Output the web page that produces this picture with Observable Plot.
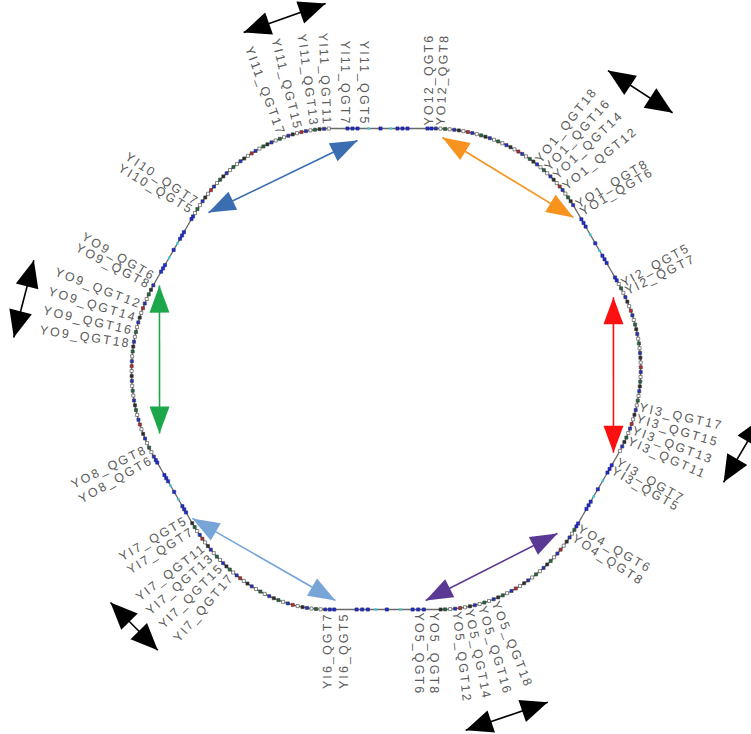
<!DOCTYPE html>
<html>
<head>
<meta charset="utf-8">
<script src="https://cdn.jsdelivr.net/npm/d3@7"></script>
<script src="https://cdn.jsdelivr.net/npm/@observablehq/plot@0.6"></script>
<style>
  body { margin: 0; background: #fff; }
  #chart svg { display: block; }
</style>
</head>
<body>
<div id="chart"></div>
<script>
// ---- Ring layout: six straight sections (clockwise from 12 o'clock) joined by arcs ----
const straightAzimuth = [90, 30, -30, -90, -150, 150];     // deg, normal direction
const straightApothem = [240, 246, 246, 241, 243, 241];    // distance from ring centre
const straightHalfLength = [50, 42, 42, 56, 36, 38];

// Quadrupole magnets on the straights (fraction of half-length along the section)
const straightQuadOffsets = [-0.72, -0.62, -0.52, -0.06, 0.28, 0.38, 0.48, 0.88, 0.96];
const straightCorrectorOffsets = [0.14, -0.3];

// ---- Magnet labels: name and azimuth (deg, counter-clockwise from 3 o'clock) ----
const labelNames = [
  "YO12_QGT6", "YO12_QGT8",
  "YO1_QGT18", "YO1_QGT16", "YO1_QGT14", "YO1_QGT12", "YO1_QGT8", "YO1_QGT6",
  "YI2_QGT5", "YI2_QGT7",
  "YI3_QGT17", "YI3_QGT15", "YI3_QGT13", "YI3_QGT11", "YI3_QGT7", "YI3_QGT5",
  "YO4_QGT6", "YO4_QGT8",
  "YO5_QGT18", "YO5_QGT16", "YO5_QGT14", "YO5_QGT12", "YO5_QGT8", "YO5_QGT6",
  "YI6_QGT5", "YI6_QGT7",
  "YI7_QGT17", "YI7_QGT15", "YI7_QGT13", "YI7_QGT11", "YI7_QGT7", "YI7_QGT5",
  "YO8_QGT6", "YO8_QGT8",
  "YO9_QGT18", "YO9_QGT16", "YO9_QGT14", "YO9_QGT12", "YO9_QGT8", "YO9_QGT6",
  "YI10_QGT5", "YI10_QGT7",
  "YI11_QGT17", "YI11_QGT15", "YI11_QGT13", "YI11_QGT11", "YI11_QGT7", "YI11_QGT5"
];
const labelAzimuths = [
  79.5, 76.6,
  53.3, 50.8, 48.3, 45.2, 40.4, 38.4,
  19.5, 17.5,
  -8.6, -11.1, -13.8, -16.3, -21.5, -23.7,
  -39.4, -41.7,
  -64.3, -67.4, -70.4, -73.1, -78.3, -81.7,
  260.6, 257.1,
  233.7, 230.7, 227.7, 224.9, 220.4, 217.5,
  201.3, 198.7,
  174.4, 171.5, 168.5, 165.3, 160.6, 158.5,
  140.3, 138.2,
  113.7, 109.8, 106.1, 103.2, 98.9, 94.7
];

// ---- Coloured double arrows inside the ring (polar: azimuth deg, radius) ----
const arrowColors = ["#3b6db1", "#f7931e", "#ff1010", "#5a3994", "#77a5d8", "#1ca84a"];
const arrowFromAz = [96.5, 75.7, 17.2, -43.5, 218.1, 159.7];
const arrowFromR  = [229.5, 238.4, 240.7, 239.8, 242.9, 238.9];
const arrowToAz   = [138.3, 38.5, -20.1, -79.7, 258.3, 196.2];
const arrowToR    = [234.4, 242.7, 244.9, 235.8, 236.9, 233.2];

// ---- Black double arrows outside the ring ----
const blackFromAz = [112.6, 53, -7.5, -63.8, 220.6, 162.8];
const blackFromR  = [364, 373, 381, 372, 359.6, 366];
const blackToAz   = [99, 41.5, -18.5, -77.2, 231.3, 175.2];
const blackToR    = [369.6, 386, 358.6, 371, 361, 371];

// ---- Geometry helpers ----
const rad = Math.PI / 180;
const polar = (az, r) => [r * Math.cos(az * rad), r * Math.sin(az * rad)];

function buildRing() {
  const n = straightAzimuth.length;
  const secs = straightAzimuth.map((az, k) => {
    const p = az * rad, a = straightApothem[k], h = straightHalfLength[k];
    const cx = a * Math.cos(p), cy = a * Math.sin(p);
    const tx = Math.sin(p), ty = -Math.cos(p); // clockwise direction
    return {cx, cy, h, tx, ty, sx: cx - h * tx, sy: cy - h * ty, ex: cx + h * tx, ey: cy + h * ty};
  });
  const pts = [];
  secs.forEach((s, k) => {
    const nx = secs[(k + 1) % n];
    const SN = 60;
    for (let i = 0; i < SN; i++) {
      const u = i / SN;
      pts.push({x: s.sx + u * (s.ex - s.sx), y: s.sy + u * (s.ey - s.sy), arc: false});
    }
    // arc: cubic Bezier tangent to both neighbouring straights
    const m = 0.357 * Math.hypot(nx.sx - s.ex, nx.sy - s.ey);
    const p0 = [s.ex, s.ey], p1 = [s.ex + m * s.tx, s.ey + m * s.ty];
    const p2 = [nx.sx - m * nx.tx, nx.sy - m * nx.ty], p3 = [nx.sx, nx.sy];
    const AN = 300;
    for (let i = 0; i < AN; i++) {
      const u = i / AN, v = 1 - u;
      const b0 = v * v * v, b1 = 3 * v * v * u, b2 = 3 * v * u * u, b3 = u * u * u;
      pts.push({
        x: b0 * p0[0] + b1 * p1[0] + b2 * p2[0] + b3 * p3[0],
        y: b0 * p0[1] + b1 * p1[1] + b2 * p2[1] + b3 * p3[1],
        arc: i > 0
      });
    }
  });
  pts.push({...pts[0], arc: false});
  return {pts, secs};
}

const {pts: ring, secs} = buildRing();
const N = ring.length - 1;

function ringIndexAt(az) {
  let best = 0, bd = Infinity;
  for (let i = 0; i < N; i++) {
    const a = Math.atan2(ring[i].y, ring[i].x) / rad;
    const d = Math.abs((((a - az) % 360) + 540) % 360 - 180);
    if (d < bd) { bd = d; best = i; }
  }
  return best;
}

// Magnets along the arcs
const magnetColors = ["#1f2fd6", "#ffffff", "#1b6b3a", "#ffffff", "#1f2fd6", "#2a2a2a",
                      "#ffffff", "#c8242b", "#1f2fd6", "#ffffff", "#1b6b3a", "#2a2a2a"];
const magnetSpacing = 4.5;
const arcMagnets = [];
{
  let acc = 0, ci = 0;
  for (let i = 1; i < ring.length; i++) {
    const a = ring[i - 1], b = ring[i];
    if (!b.arc) { acc = magnetSpacing / 2; continue; }
    acc += Math.hypot(b.x - a.x, b.y - a.y);
    if (acc >= magnetSpacing) {
      acc = 0;
      arcMagnets.push({x: b.x, y: b.y, fill: magnetColors[ci++ % magnetColors.length]});
    }
  }
}
const straightQuads = secs.flatMap(s => straightQuadOffsets.map(o => ({x: s.cx + o * s.h * s.tx, y: s.cy + o * s.h * s.ty})));
const straightCorrectors = secs.flatMap(s => straightCorrectorOffsets.map(o => ({x: s.cx + o * s.h * s.tx, y: s.cy + o * s.h * s.ty})));

// Label placement: perpendicular to the ring, reading outward on the right half
const labelGap = 3;
const labels = labelNames.map((name, i) => {
  const az = labelAzimuths[i];
  const j = ringIndexAt(az);
  const p = ring[j], a = ring[(j - 1 + N) % N], b = ring[(j + 1) % N];
  const tx = b.x - a.x, ty = b.y - a.y, tl = Math.hypot(tx, ty);
  const nx = -ty / tl, ny = tx / tl; // outward normal
  const screenAngle = Math.atan2(-ny, nx) / rad;
  const azn = ((az % 360) + 360) % 360;
  const left = azn > 90 && azn < 270;
  return {
    name,
    x: p.x + labelGap * nx,
    y: p.y + labelGap * ny,
    rotate: left ? screenAngle + 180 : screenAngle,
    left
  };
});

// Double arrows -> line segments and heads
function arrowParts(fromAz, fromR, toAz, toR, colors) {
  const links = [], heads = [];
  fromAz.forEach((_, i) => {
    const [x1, y1] = polar(fromAz[i], fromR[i]);
    const [x2, y2] = polar(toAz[i], toR[i]);
    const color = Array.isArray(colors) ? colors[i] : colors;
    links.push({x1, y1, x2, y2, color});
    const ang = Math.atan2(x2 - x1, y2 - y1) / rad;
    heads.push({x: x2, y: y2, rotate: ang, color});
    heads.push({x: x1, y: y1, rotate: ang + 180, color});
  });
  return {links, heads};
}
const colored = arrowParts(arrowFromAz, arrowFromR, arrowToAz, arrowToR, arrowColors);
const black = arrowParts(blackFromAz, blackFromR, blackToAz, blackToR, "#000000");

// Filled triangular arrowhead with its tip at the origin, pointing up
const headSymbol = ratio => ({
  draw(context, size) {
    const L = Math.sqrt(size / Math.PI), W = L * ratio;
    context.moveTo(0, 0);
    context.lineTo(-W, L);
    context.lineTo(W, L);
    context.closePath();
  }
});

const labelFont = {fontSize: 12.5, fontFamily: "Liberation Sans, Arial, sans-serif", fill: "#5a5a5a"};

const W = 751, H = 734;
const chart = Plot.plot({
  width: W,
  height: H,
  margin: 0,
  x: {domain: [-383, W - 383], axis: null},
  y: {domain: [-(H - 368), 368], axis: null},
  color: {type: "identity"},
  style: {background: "#ffffff"},
  marks: [
    Plot.line(ring, {x: "x", y: "y", stroke: "#6a6a6a", strokeWidth: 1.3}),
    Plot.dot(straightCorrectors, {x: "x", y: "y", symbol: "square", r: 1.4, fill: "#3cc8d2", stroke: "none"}),
    Plot.dot(straightQuads, {x: "x", y: "y", symbol: "square", r: 1.8, fill: "#1f2fd6", stroke: "#1a1a60", strokeWidth: 0.5}),
    Plot.dot(arcMagnets, {x: "x", y: "y", symbol: "square", r: 1.75, fill: "fill", stroke: "#3a3a3a", strokeWidth: 0.6}),
    Plot.link(colored.links, {x1: "x1", y1: "y1", x2: "x2", y2: "y2", stroke: "color", strokeWidth: 1.6}),
    Plot.dot(colored.heads, {x: "x", y: "y", rotate: "rotate", fill: "color", stroke: "none", r: 27, symbol: headSymbol(0.37)}),
    Plot.link(black.links, {x1: "x1", y1: "y1", x2: "x2", y2: "y2", stroke: "color", strokeWidth: 1.6}),
    Plot.dot(black.heads, {x: "x", y: "y", rotate: "rotate", fill: "color", stroke: "none", r: 27, symbol: headSymbol(0.43)}),
    Plot.text(labels.filter(d => !d.left), {x: "x", y: "y", text: "name", rotate: "rotate", textAnchor: "start", ...labelFont}),
    Plot.text(labels.filter(d => d.left), {x: "x", y: "y", text: "name", rotate: "rotate", textAnchor: "end", ...labelFont})
  ]
});
d3.select(chart).selectAll("text").attr("letter-spacing", "2.1");
document.getElementById("chart").append(chart);
</script>
</body>
</html>
